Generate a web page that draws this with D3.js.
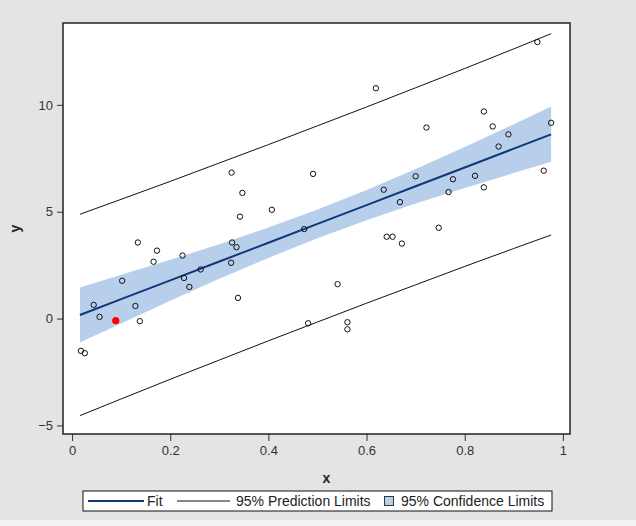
<!DOCTYPE html>
<meta charset="utf-8">
<script src="https://d3js.org/d3.v7.min.js"></script>
<style>
  body { margin: 0; background: #e4e4e4; }
  svg { display: block; font-family: "Liberation Sans", Arial, sans-serif; }
</style>
<div id="fitplot"></div>
<script>

    const xObs = [0.018, 0.026, 0.044, 0.056, 0.102, 0.129, 0.134, 0.138, 0.166, 0.173,
        0.225, 0.228, 0.239, 0.262, 0.325, 0.326, 0.324, 0.335, 0.338, 0.342,
        0.347, 0.407, 0.473, 0.481, 0.491, 0.541, 0.561, 0.561, 0.619, 0.635,
        0.641, 0.653, 0.668, 0.672, 0.700, 0.722, 0.747, 0.767, 0.776, 0.821,
        0.839, 0.839, 0.857, 0.869, 0.889, 0.948, 0.961, 0.976];
    const yObs = [-1.51, -1.62, 0.64, 0.08, 1.77, 0.59, 3.56, -0.12, 2.66, 3.18,
        2.95, 1.90, 1.48, 2.30, 6.83, 3.56, 2.61, 3.34, 0.97, 4.77,
        5.88, 5.09, 4.19, -0.22, 6.77, 1.61, -0.17, -0.50, 10.78, 6.03,
        3.83, 3.83, 5.45, 3.51, 6.66, 8.94, 4.25, 5.92, 6.52, 6.68,
        9.69, 6.14, 8.99, 8.05, 8.62, 12.94, 6.92, 9.16];
    // highlighted observation
    const xRed = [0.089];
    const yRed = [-0.10];

    // fit, confidence and prediction limits read at these x values
    const xGrid  = [0.016, 0.1, 0.2, 0.3, 0.4, 0.5, 0.6, 0.7, 0.8, 0.9, 0.976];
    const fitY   = [0.17, 0.91, 1.79, 2.67, 3.55, 4.43, 5.31, 6.19, 7.07, 7.95, 8.62];
    const clmUp  = [1.46, 2.05, 2.75, 3.48, 4.26, 5.10, 6.02, 7.00, 8.03, 9.09, 9.92];
    const clmLo  = [-1.12, -0.23, 0.83, 1.86, 2.84, 3.76, 4.60, 5.38, 6.11, 6.81, 7.34];
    const pliUp  = [4.88, 5.58, 6.42, 7.28, 8.14, 9.02, 9.90, 10.80, 11.70, 12.62, 13.33];
    const pliLo  = [-4.54, -3.76, -2.84, -1.94, -1.04, -0.16, 0.72, 1.58, 2.44, 3.28, 3.91];

    const xTicks = [0, 0.2, 0.4, 0.6, 0.8, 1];
    const yTicks = [-5, 0, 5, 10];
    const legendItems = ["Fit", "95% Prediction Limits", "95% Confidence Limits"];

    const W = 636, H = 526;
    const margin = {top: 23, left: 63, right: 66, bottom: 92},
        width = W - margin.left - margin.right,
        height = H - margin.top - margin.bottom;

    const root = d3.select("#fitplot")
      .append("svg")
        .attr("width", W)
        .attr("height", H);

    root.append("rect")
        .attr("width", W).attr("height", H)
        .style("fill", "#e4e4e4");
    root.append("rect")
        .attr("y", 520).attr("width", W).attr("height", H - 520)
        .style("fill", "#f2f2f2");

    const svg = root.append("g")
        .attr("transform", `translate(${margin.left},${margin.top})`);

    svg.append("rect")
        .attr("width", width).attr("height", height)
        .style("fill", "white");

    const x = d3.scaleLinear()
        .domain([-0.0185, 1.0145])
        .range([0, width]);
    const y = d3.scaleLinear()
        .domain([-5.4, 13.83])
        .range([height, 0]);

    const pts = xGrid.map((v, i) => ({x: v, fit: fitY[i], cu: clmUp[i], cl: clmLo[i], pu: pliUp[i], pl: pliLo[i]}));

    svg.append("path")
        .datum(pts)
        .attr("d", d3.area().x(d => x(d.x)).y0(d => y(d.cl)).y1(d => y(d.cu)))
        .style("fill", "#b8cfec");

    const line = key => d3.line().x(d => x(d.x)).y(d => y(d[key]));
    ["pu", "pl"].forEach(k => {
        svg.append("path")
            .datum(pts)
            .attr("d", line(k))
            .style("fill", "none")
            .style("stroke", "#111")
            .style("stroke-width", 1);
    });

    svg.append("path")
        .datum(pts)
        .attr("d", line("fit"))
        .style("fill", "none")
        .style("stroke", "#11367c")
        .style("stroke-width", 2);

    svg.append("g")
        .selectAll("circle")
        .data(xObs.map((v, i) => [v, yObs[i]]))
        .join("circle")
            .attr("cx", d => x(d[0]))
            .attr("cy", d => y(d[1]))
            .attr("r", 2.7)
            .style("fill", "none")
            .style("stroke", "#111")
            .style("stroke-width", 1);

    svg.append("g")
        .selectAll("circle")
        .data(xRed.map((v, i) => [v, yRed[i]]))
        .join("circle")
            .attr("cx", d => x(d[0]))
            .attr("cy", d => y(d[1]))
            .attr("r", 3.6)
            .style("fill", "#ff0000");

    // axes
    const xAxis = svg.append("g")
        .attr("transform", `translate(0,${height})`)
        .call(d3.axisBottom(x).tickValues(xTicks).tickSize(7).tickPadding(5).tickFormat(d3.format("~g")));
    const yAxis = svg.append("g")
        .call(d3.axisLeft(y).tickValues(yTicks).tickSize(6).tickPadding(4));
    [xAxis, yAxis].forEach(a => {
        a.select(".domain").remove();
        a.selectAll(".tick line").attr("stroke", "#333");
        a.selectAll(".tick text")
            .style("font-size", "13px")
            .style("fill", "#333")
            .style("font-family", "'Liberation Sans', Arial, sans-serif");
    });

    svg.append("rect")
        .attr("width", width).attr("height", height)
        .style("fill", "none")
        .style("stroke", "#222")
        .style("stroke-width", 1.5);

    svg.append("text")
        .attr("x", width / 2 + 10)
        .attr("y", height + 49)
        .attr("text-anchor", "middle")
        .style("font-size", "14px")
        .style("font-weight", "bold")
        .style("fill", "#222")
        .text("x");

    svg.append("text")
        .attr("transform", `translate(${-margin.left + 20},${height / 2}) rotate(-90)`)
        .attr("text-anchor", "middle")
        .style("font-size", "14px")
        .style("font-weight", "bold")
        .style("fill", "#222")
        .text("y");

    // legend
    const lg = root.append("g").attr("transform", "translate(83,491)");
    lg.append("rect")
        .attr("width", 469).attr("height", 20)
        .style("fill", "white")
        .style("stroke", "#111")
        .style("stroke-width", 1);
    lg.append("line")
        .attr("x1", 5).attr("x2", 61).attr("y1", 10).attr("y2", 10)
        .style("stroke", "#11367c").style("stroke-width", 2);
    lg.append("line")
        .attr("x1", 94).attr("x2", 147).attr("y1", 10).attr("y2", 10)
        .style("stroke", "#111").style("stroke-width", 1);
    lg.append("rect")
        .attr("x", 301.5).attr("y", 5.5).attr("width", 9).attr("height", 9)
        .style("fill", "#b8cfec").style("stroke", "#333");
    const lgX = [64, 153, 318];
    lg.selectAll("text.item")
        .data(legendItems)
        .join("text")
            .attr("class", "item")
            .attr("x", (d, i) => lgX[i])
            .attr("y", 15)
            .style("font-size", "14px")
            .style("fill", "#222")
            .text(d => d);
</script>
